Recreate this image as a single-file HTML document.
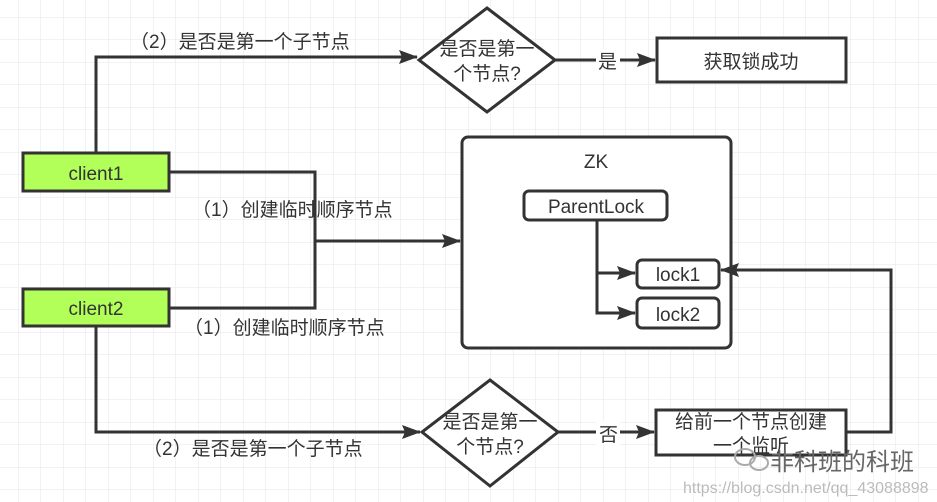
<!DOCTYPE html>
<html><head><meta charset="utf-8"><style>
html,body{margin:0;padding:0;background:#fff}
svg{display:block}
text{font-family:"Liberation Sans","Noto Sans CJK SC",sans-serif;fill:#333;font-size:19px}
</style></head><body>
<svg width="937" height="502" xmlns="http://www.w3.org/2000/svg">
<defs>
<pattern id="g" x="18" y="17" width="22.5" height="22.5" patternUnits="userSpaceOnUse">
<path d="M0 0H22.5M0 0V22.5" stroke="#e6e6e6" stroke-width="1" fill="none"/>
</pattern>
<marker id="b" markerWidth="20" markerHeight="14" refX="18" refY="7" orient="auto" markerUnits="userSpaceOnUse"><path d="M0 0L19 7L0 14L3 7z" fill="#333"/></marker>
</defs>
<rect width="937" height="502" fill="url(#g)"/>
<g stroke="#333" stroke-width="3">
<rect x="23" y="153" width="146" height="38" fill="#b2ff59"/>
<rect x="23" y="289" width="146" height="37" fill="#b2ff59"/>
<path d="M487 8L555 60L487 112L419 60z" fill="#fff"/>
<path d="M490 380L558 432L490 486L422 432z" fill="#fff"/>
<rect x="657" y="38" width="189" height="44" fill="#fff"/>
<rect x="656" y="410" width="190" height="45" fill="#fff"/>
<rect x="462" y="137" width="269" height="211" rx="6" fill="#fff"/>
<rect x="524" y="191" width="143" height="29" rx="5" fill="#fff"/>
<rect x="637" y="260" width="82" height="28" rx="5" fill="#fff"/>
<rect x="637" y="298" width="82" height="30" rx="5" fill="#fff"/>
</g>
<g stroke="#333" stroke-width="3" fill="none">
<path d="M96 153V57H417" marker-end="url(#b)"/>
<path d="M555 60H655" marker-end="url(#b)"/>
<path d="M169 172H315V308H169"/>
<path d="M315 241H460" marker-end="url(#b)"/>
<path d="M597 220V313H635" marker-end="url(#b)"/>
<path d="M597 273H635" marker-end="url(#b)"/>
<path d="M96 326V432H420" marker-end="url(#b)"/>
<path d="M558 432H654" marker-end="url(#b)"/>
<path d="M846 432H891V270H721" marker-end="url(#b)"/>
</g>
<rect x="596" y="49" width="24" height="24" fill="#fff"/>
<text x="598" y="68">是</text>
<rect x="596" y="421" width="24" height="24" fill="#fff"/>
<text x="599" y="441">否</text>
<g style="font-size:20px">
<text x="96" y="180" text-anchor="middle">client1</text>
<text x="96" y="315" text-anchor="middle">client2</text>
<text x="596" y="168" text-anchor="middle">ZK</text>
<text x="596" y="213" text-anchor="middle">ParentLock</text>
<text x="678" y="281" text-anchor="middle">lock1</text>
<text x="678" y="321" text-anchor="middle">lock2</text>
<text x="487" y="55" text-anchor="middle">是否是第一</text>
<text x="487" y="80" text-anchor="middle">个节点?</text>
<text x="490" y="428" text-anchor="middle">是否是第一</text>
<text x="490" y="453" text-anchor="middle">个节点?</text>
</g>
<text x="751" y="68" text-anchor="middle">获取锁成功</text>
<text x="751" y="428" text-anchor="middle">给前一个节点创建</text>
<text x="751" y="452" text-anchor="middle">一个监听</text>
<text x="130" y="48">（2）是否是第一个子节点</text>
<text x="192" y="216">（1）创建临时顺序节点</text>
<text x="184" y="334">（1）创建临时顺序节点</text>
<text x="143" y="455">（2）是否是第一个子节点</text>
<g fill="none" stroke="#aaa" stroke-width="2"><ellipse cx="745" cy="457" rx="10" ry="8"/><ellipse cx="759" cy="463" rx="9" ry="7"/></g>
<text x="770" y="470" style="font-size:24px;fill:#666">非科班的科班</text>
<text x="683" y="493" style="font-size:16px;fill:#bbb">https://blog.csdn.net/qq_43088898</text>
</svg>
</body></html>
